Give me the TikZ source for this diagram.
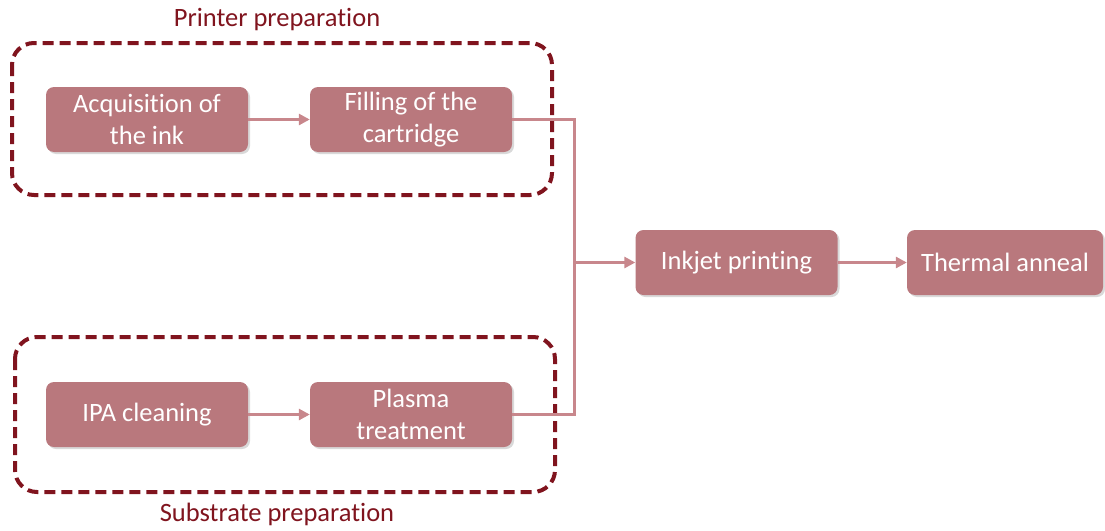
\documentclass[tikz,border=0pt]{standalone}
\usepackage{fontspec}
\setmainfont{Carlito}[Ligatures={NoCommon}]
\usetikzlibrary{arrows.meta,shadows}
\definecolor{boxfill}{RGB}{185,120,125}
\definecolor{linecol}{RGB}{200,135,140}
\definecolor{dashcol}{RGB}{128,20,30}
\begin{document}
\begin{tikzpicture}[x=1pt,y=-1pt,
  stepbox/.style={fill=boxfill,draw=none,rounded corners=8pt,minimum width=202pt,minimum height=65pt,
    text=white,align=center,inner sep=0pt,
    font=\fontsize{26.5}{32}\selectfont,
    drop shadow={shadow xshift=2pt,shadow yshift=-2pt,opacity=0.25,fill=black!60}},
  group/.style={draw=dashcol,line width=4pt,dash pattern=on 11pt off 6pt,rounded corners=22pt},
  grouplabel/.style={text=dashcol,font=\fontsize{26.5}{32}\selectfont,inner sep=0pt},
  conn/.style={draw=linecol,line width=3pt},
  arr/.style={conn,-{Triangle[length=11pt,width=11pt]}}]
\useasboundingbox (0,0) rectangle (1105,530);
\draw[group] (12,43) rectangle (552,195);
\draw[group] (15,337) rectangle (555,492);
\node[grouplabel] (lp) at (277,20) {Printer preparation};
\node[grouplabel] (ls) at (277,514) {Substrate preparation};
\node[stepbox] (acq) at (147,119.5) {Acquisition of\\the ink};
\node[stepbox] (fill) at (411,119.5) {Filling of the\\cartridge};
\node[stepbox] (ipa) at (147,414.5) {IPA cleaning};
\node[stepbox] (plasma) at (411,414.5) {Plasma\\treatment};
\node[stepbox] (ink) at (736.5,262.5) {Inkjet printing};
\node[stepbox,minimum width=196pt] (therm) at (1005,262.5) {Thermal anneal};
\coordinate (j) at (574,262.5);
\draw[arr] (acq) -- (fill);
\draw[arr] (ipa) -- (plasma);
\draw[conn] (fill.east) -| (j);
\draw[conn] (plasma.east) -| (j);
\draw[arr] (j) -- (ink);
\draw[arr] (ink) -- (therm);
\end{tikzpicture}
\end{document}
